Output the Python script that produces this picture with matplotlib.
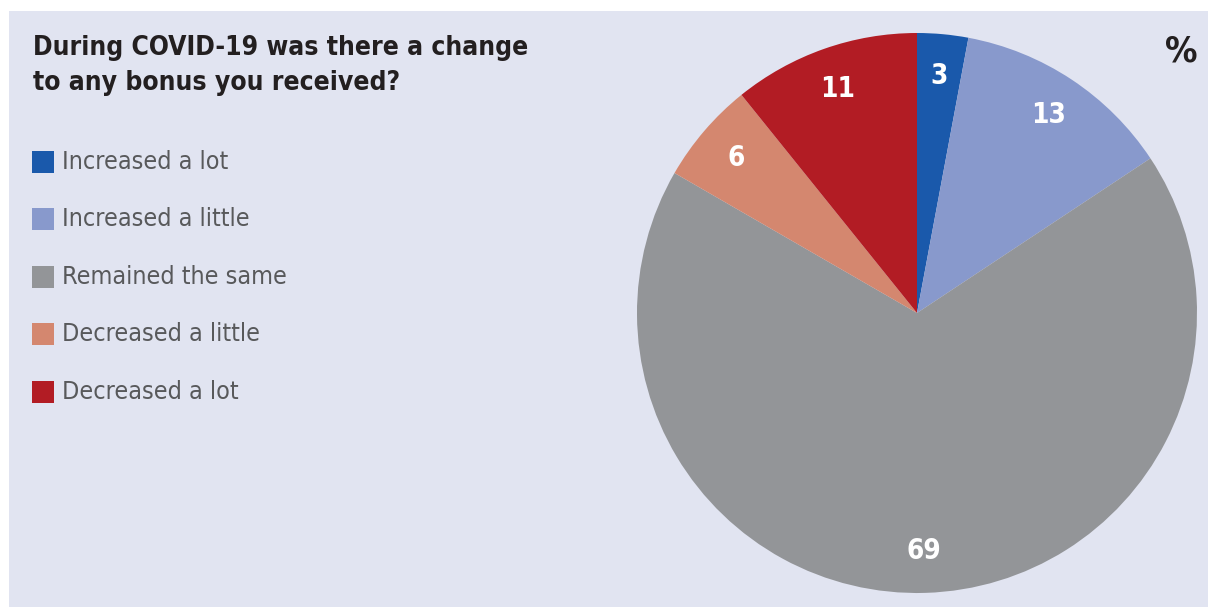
import matplotlib
matplotlib.use('Agg')
import matplotlib.pyplot as plt
from matplotlib.patches import Rectangle

# data
categories = ['Increased a lot', 'Increased a little', 'Remained the same',
              'Decreased a little', 'Decreased a lot']
values = [3, 13, 69, 6, 11]
colors = ['#1a59ab', '#8899cc', '#939598', '#d4876f', '#b21c24']
title = 'During COVID-19 was there a change\nto any bonus you received?'

# condensed face stands in for the narrow font of the original
plt.rcParams['font.family'] = ['DejaVu Sans']
plt.rcParams['font.stretch'] = 'condensed'

W, H = 1208, 607
fig = plt.figure(figsize=(W / 100, H / 100), dpi=100)
fig.patch.set_facecolor('white')

# lavender panel
fig.patches.append(Rectangle((9 / W, 0), 1 - 9 / W, (H - 11) / H,
                             transform=fig.transFigure, facecolor='#e1e4f1',
                             edgecolor='none', zorder=-5))

# pie
cx, cy, r = 917, 313, 280
ax = fig.add_axes([(cx - r) / W, (H - cy - r) / H, 2 * r / W, 2 * r / H])
total = sum(values)
wedges, texts, autotexts = ax.pie(values, colors=colors, startangle=90, counterclock=False,
                                  autopct=lambda p: '%d' % round(p * total / 100),
                                  pctdistance=0.85,
                                  textprops=dict(color='white', fontsize=20, fontweight='bold'))
ax.set_xlim(-1, 1)
ax.set_ylim(-1, 1)
ax.set_aspect('equal')
ax.axis('off')

# title
fig.text(33 / W, 1 - 35 / H, title, fontsize=19, fontweight='bold', color='#231f20',
         va='top', ha='left', linespacing=1.45)
fig.text(1197 / W, 1 - 52 / H, '%', fontsize=26, fontweight='bold', color='#231f20',
         va='center', ha='right')

# legend
for i, (cat, col) in enumerate(zip(categories, colors)):
    yc = 162 + i * 57.4
    fig.patches.append(Rectangle((32 / W, 1 - (yc + 11) / H), 22 / W, 22 / H,
                                 transform=fig.transFigure, facecolor=col, edgecolor='none'))
    fig.text(62 / W, 1 - yc / H, cat, fontsize=18, color='#58595b', va='center', ha='left')

fig.savefig('out.png', dpi=100)
